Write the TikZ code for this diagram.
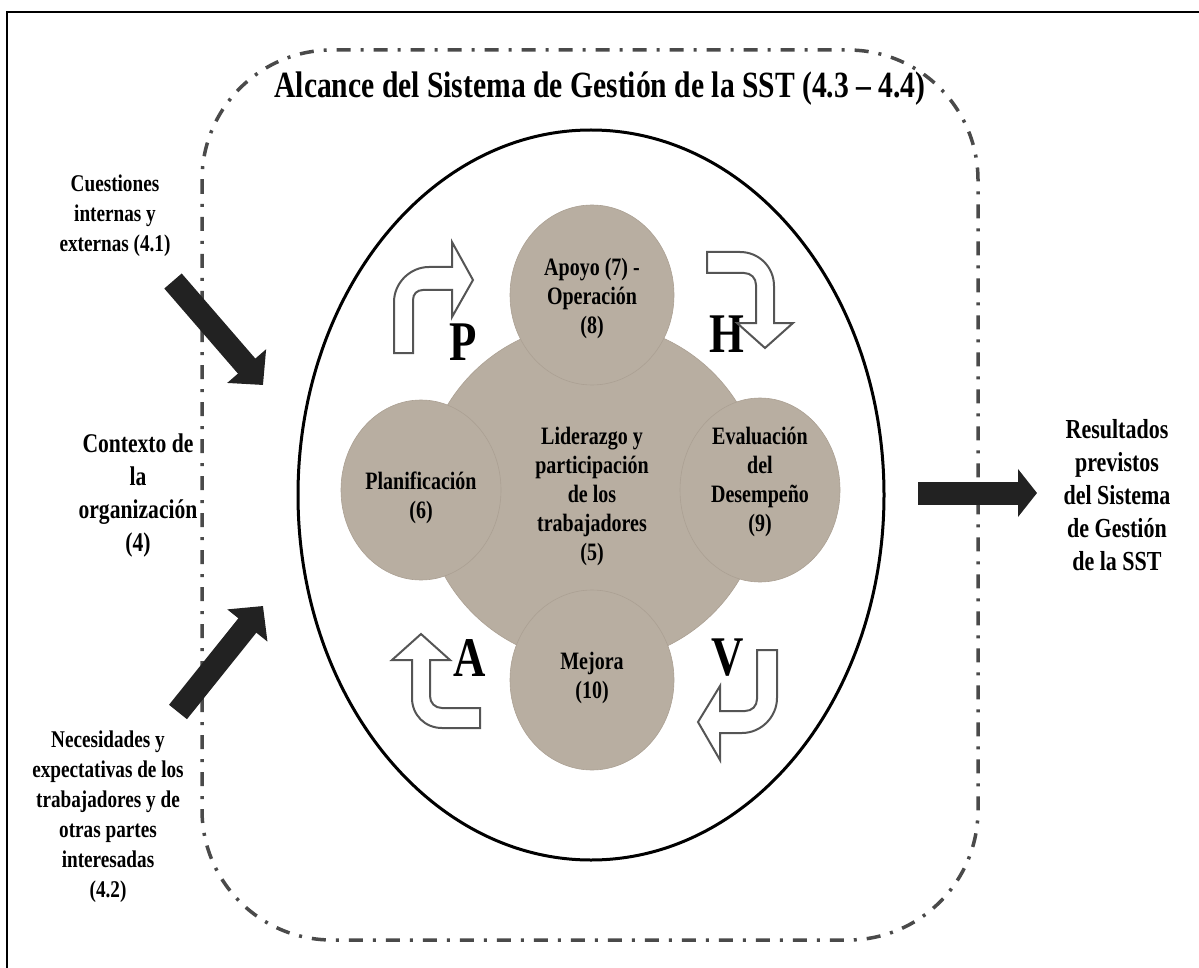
\documentclass[tikz,border=0pt]{standalone}
\usepackage{fontspec}
\setmainfont{Liberation Serif}[FakeStretch=0.8]
\usetikzlibrary{arrows.meta,shapes.geometric}
\definecolor{stone}{HTML}{B8AEA1}
\definecolor{stoneedge}{HTML}{ABA093}
\definecolor{scopegray}{HTML}{4A4A4A}
\definecolor{outlinegray}{HTML}{555555}
\definecolor{ink}{HTML}{222222}
\begin{document}
\begin{tikzpicture}[x=1pt,y=-1pt,
  sidetext/.style={font=\fontsize{24}{30}\selectfont\bfseries, align=center, inner sep=0pt},
  bigtext/.style={font=\fontsize{27}{33}\selectfont\bfseries, align=center, inner sep=0pt},
  outtext/.style={font=\fontsize{27.5}{33}\selectfont\bfseries, align=center, inner sep=0pt},
  stage/.style={ellipse, fill=stone, draw=stoneedge, line width=0.6pt, inner sep=0pt,
                font=\fontsize{25}{29}\selectfont\bfseries, align=center},
  letter/.style={font=\fontsize{56}{56}\selectfont\bfseries, inner sep=0pt},
  bentarrow/.style={fill=white, draw=outlinegray, line width=2pt, line join=miter},
  flowarrow/.style={draw=ink, line width=23pt},
  scopeline/.style={draw=scopegray, line width=3.5pt, rounded corners=130pt,
                    dash pattern=on 14pt off 10pt on 3pt off 10pt}]
\useasboundingbox (0,0) rectangle (1199,968);

% page frame
\draw[line width=2.5pt] (7,968) -- (7,12) -- (1199,12);

% scope of the management system
\draw[scopeline] (202,50) rectangle (978,940);
\node[font=\fontsize{37}{37}\selectfont\bfseries, inner sep=0pt] (title) at (600,89)
  {Alcance del Sistema de Gestión de la SST (4.3 – 4.4)};

% outer ellipse
\draw[line width=3pt] (591,495) ellipse [x radius=293pt, y radius=365pt];

% central circle and the four stages
\node[stage, minimum width=340pt, minimum height=340pt] (lead) at (593,493) {};
\node[stage, minimum width=164pt, minimum height=180pt] (apoyo) at (592,295) {};
\node[stage, minimum width=160pt, minimum height=180pt] (plan) at (421,490) {};
\node[stage, minimum width=160pt, minimum height=184pt] (eval) at (760,490) {};
\node[stage, minimum width=164pt, minimum height=180pt] (mejora) at (592,680) {};

\node[stage, fill=none, draw=none] (leadtxt) at (592,496)
  {Liderazgo y\\participación\\de los\\trabajadores\\(5)};
\node[stage, fill=none, draw=none] (apoyotxt) at (592,298) {Apoyo (7) -\\Operación\\(8)};
\node[stage, fill=none, draw=none] (plantxt) at (421,498) {Planificación\\(6)};
\node[stage, fill=none, draw=none] (evaltxt) at (760,482) {Evaluación\\del\\Desempeño\\(9)};
\node[stage, fill=none, draw=none] (mejoratxt) at (592,678) {Mejora\\(10)};

% PHVA cycle letters
\node[letter] (P) at (463,342) {P};
\node[letter] (H) at (727,334) {H};
\node[letter] (A) at (470,658) {A};
\node[letter] (V) at (728,658) {V};

% hollow bent arrows of the cycle
\draw[bentarrow] (394,353) -- (394,302) .. controls (394,283) and (410,267) .. (429,267)
  -- (452,267) -- (452,242) -- (473,280) -- (452,317) -- (452,290) -- (423,290)
  .. controls (417,290) and (413,294) .. (413,300) -- (413,353) -- cycle;
\draw[bentarrow] (707,252) -- (740,252) .. controls (759,252) and (774,267) .. (774,286)
  -- (774,323) -- (793,323) -- (765,348) -- (737,323) -- (756,323) -- (756,285)
  .. controls (756,278) and (751,273) .. (744,273) -- (707,273) -- cycle;
\draw[bentarrow] (757,650) -- (777,650) -- (777,698) .. controls (777,717) and (761,733) .. (742,733)
  -- (720,733) -- (720,760) -- (698,722) -- (720,686) -- (720,711) -- (745,711)
  .. controls (752,711) and (757,706) .. (757,699) -- cycle;
\draw[bentarrow] (421,634) -- (450,660) -- (430,660) -- (430,696)
  .. controls (430,703) and (435,708) .. (442,708) -- (480,708) -- (480,728) -- (442,728)
  .. controls (425,728) and (412,715) .. (412,698) -- (412,660) -- (392,660) -- cycle;

% inputs and outputs
\node[sidetext] (issues) at (115,216) {Cuestiones\\internas y\\externas (4.1)};
\node[bigtext] (context) at (138,496) {Contexto de\\la\\organización\\(4)};
\node[sidetext] (needs) at (108,817)
  {Necesidades y\\expectativas de los\\trabajadores y de\\otras partes\\interesadas\\(4.2)};
\node[outtext] (results) at (1117,495)
  {Resultados\\previstos\\del Sistema\\de Gestión\\de la SST};

\coordinate (issuesout) at (173,281);
\coordinate (issuesin) at (263,385);
\coordinate (needsout) at (178,712);
\coordinate (needsin) at (263,606);
\coordinate (resultsout) at (918,493);
\coordinate (resultsin) at (1037,493);

\draw[flowarrow, -{Triangle[length=25pt,width=50pt]}] (issuesout) -- (issuesin);
\draw[flowarrow, -{Triangle[length=25pt,width=50pt]}] (needsout) -- (needsin);
\draw[flowarrow, -{Triangle[length=19pt,width=47pt]}] (resultsout) -- (resultsin);
\end{tikzpicture}
\end{document}
